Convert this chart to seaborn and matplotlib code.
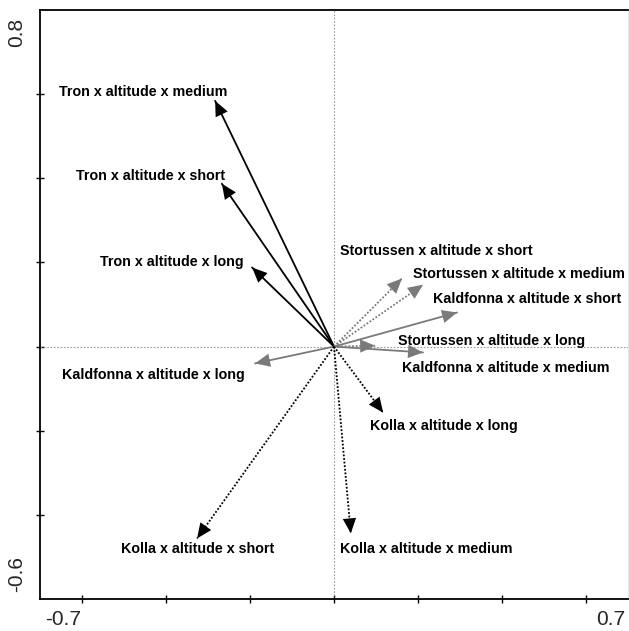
import numpy as np
import pandas as pd
import matplotlib
matplotlib.use("Agg")
import matplotlib.pyplot as plt
import seaborn as sns

# arrow names, tips and label positions
names = [
    "Tron x altitude x medium", "Tron x altitude x short", "Tron x altitude x long",
    "Kaldfonna x altitude x long", "Kaldfonna x altitude x short", "Kaldfonna x altitude x medium",
    "Stortussen x altitude x short", "Stortussen x altitude x medium", "Stortussen x altitude x long",
    "Kolla x altitude x short", "Kolla x altitude x medium", "Kolla x altitude x long",
]
site = ["Tron"] * 3 + ["Kaldfonna"] * 3 + ["Stortussen"] * 3 + ["Kolla"] * 3
tip_x = [-0.283, -0.267, -0.195, -0.188, 0.293, 0.212, 0.162, 0.212, 0.098, -0.326, 0.040, 0.117]
tip_y = [0.584, 0.387, 0.188, -0.040, 0.081, -0.014, 0.162, 0.147, 0.002, -0.456, -0.444, -0.157]
lab_x = [-0.455, -0.436, -0.386, -0.429, 0.460, 0.410, 0.243, 0.440, 0.374, -0.324, 0.219, 0.262]
lab_y = [0.606, 0.406, 0.200, -0.067, 0.114, -0.050, 0.228, 0.173, 0.014, -0.482, -0.480, -0.188]

site_color = {"Tron": "black", "Kolla": "black", "Kaldfonna": "#7a7a7a", "Stortussen": "#7a7a7a"}
site_dash = {"Tron": "", "Kaldfonna": "", "Kolla": (1, 1), "Stortussen": (1, 1)}

sns.set_style("white")
plt.rcParams["font.family"] = ["Liberation Sans", "DejaVu Sans"]

# long table: origin + tip for every arrow
rows = []
for n, s, x, y in zip(names, site, tip_x, tip_y):
    rows.append({"name": n, "site": s, "x": 0.0, "y": 0.0})
    rows.append({"name": n, "site": s, "x": x, "y": y})
df = pd.DataFrame(rows)

fig = plt.figure(figsize=(6.29, 6.31), dpi=100)
ax = fig.add_axes([40 / 629, 32 / 631, 588 / 629, 589 / 631])

ax.axhline(0, color="#9a9a9a", lw=0.8, ls=(0, (1.5, 1.5)), zorder=1)
ax.axvline(0, color="#9a9a9a", lw=0.8, ls=(0, (1.5, 1.5)), zorder=1)

sns.lineplot(data=df, x="x", y="y", units="name", estimator=None, sort=False,
             hue="site", palette=site_color, style="site", dashes=site_dash,
             linewidth=1.3, legend=False, ax=ax, zorder=3)

# arrow heads
for s, x, y in zip(site, tip_x, tip_y):
    ax.annotate("", xy=(x, y), xytext=(x * 0.8, y * 0.8),
                arrowprops=dict(arrowstyle="-|>,head_length=0.9,head_width=0.4",
                                color=site_color[s], lw=0, shrinkA=0, shrinkB=0,
                                mutation_scale=12),
                zorder=4)

for n, x, y in zip(names, lab_x, lab_y):
    ax.text(x, y, n, ha="center", va="center", fontsize=10.3, fontweight="bold", color="black")

ax.set_xlim(-0.7, 0.7)
ax.set_ylim(-0.6, 0.8)
ax.set_xticks([-0.6, -0.4, -0.2, 0.0, 0.2, 0.4, 0.6])
ax.set_yticks([-0.4, -0.2, 0.0, 0.2, 0.4, 0.6])
ax.set_xticklabels([])
ax.set_yticklabels([])
ax.set_xlabel("")
ax.set_ylabel("")
ax.tick_params(direction="inout", length=6, width=1, color="black", bottom=True, left=True)

for side in ["left", "bottom", "top"]:
    ax.spines[side].set_color("black")
    ax.spines[side].set_linewidth(1.3)
ax.spines["right"].set_color("#e6e6e6")
ax.spines["right"].set_linewidth(0.8)

# end labels of the axes
ax.text(0.008, -0.018, "-0.7", transform=ax.transAxes, ha="left", va="top", fontsize=15)
ax.text(0.995, -0.018, "0.7", transform=ax.transAxes, ha="right", va="top", fontsize=15)
ax.text(-0.04, 0.986, "0.8", transform=ax.transAxes, ha="center", va="top", rotation=90, fontsize=15)
ax.text(-0.04, 0.012, "-0.6", transform=ax.transAxes, ha="center", va="bottom", rotation=90, fontsize=15)

fig.savefig("out.png", dpi=100)
